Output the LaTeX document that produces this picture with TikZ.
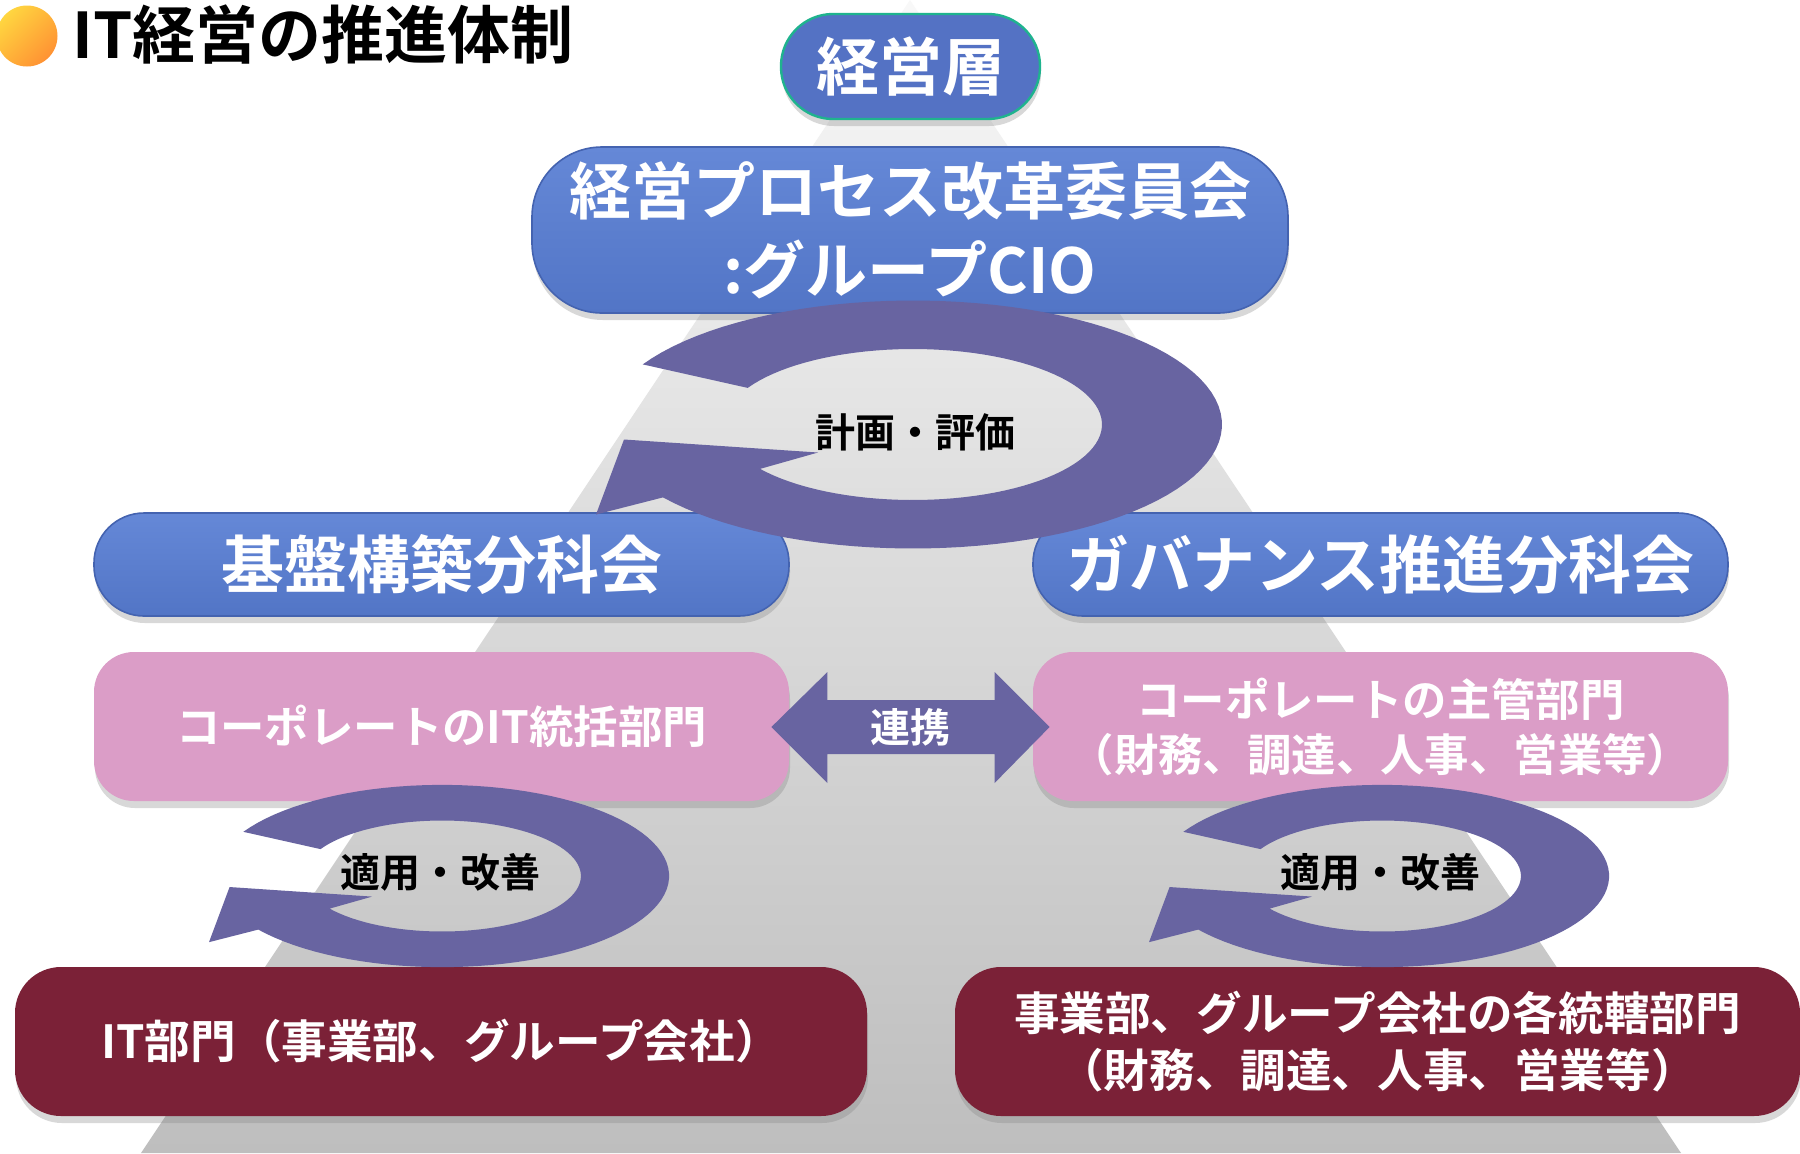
\documentclass[tikz,border=0pt]{standalone}
\usepackage{fontspec}
\newfontfamily\jp{Noto Sans CJK JP}[BoldFont={Noto Sans CJK JP Bold}]
\usetikzlibrary{shadows,calc}
\definecolor{ringc}{HTML}{6864A1}
\definecolor{bluetop}{HTML}{6588D7}
\definecolor{bluemid}{HTML}{5A7ECF}
\definecolor{bluebot}{HTML}{5275C6}
\definecolor{blueline}{HTML}{4463B0}
\definecolor{topblue}{HTML}{5472C4}
\definecolor{tealline}{HTML}{1FB38E}
\definecolor{pinkc}{HTML}{DB9DC7}
\definecolor{maroonc}{HTML}{7B2137}
\definecolor{pyrtop}{HTML}{F8F8F8}
\definecolor{pyrbot}{HTML}{BEBEBE}
\definecolor{orA}{HTML}{FFD640}
\definecolor{orB}{HTML}{FF9233}
\newcommand\myringarrow{%
  \fill[ringc] plot[domain=-151:144, samples=90, variable=\t] ({309*cos(\t)},{124*sin(\t)})
    -- (-317,90) -- (-289,15) -- (-95,28)
    -- plot[domain=144:-151, samples=90, variable=\t] ({189*cos(\t)},{75.5*sin(\t)})
    -- cycle;}
\begin{document}
\begin{tikzpicture}[x=0.5pt,y=-0.5pt,
  shd/.style={drop shadow={shadow xshift=0.5pt, shadow yshift=-3.5pt, opacity=0.3}},
  blubox/.style={shd, rounded corners=25pt, top color=bluetop, middle color=bluemid, bottom color=bluebot,
    draw=blueline, line width=0.8pt, text=white, inner sep=0pt, align=center,
    font=\jp\bfseries\fontsize{31.5}{38}\selectfont},
  pinkbox/.style={shd, rounded corners=20pt, fill=pinkc, text=white, inner sep=0pt,
    align=center, minimum width=347.5pt, minimum height=74.5pt,
    font=\jp\bfseries\fontsize{22.2}{27.5}\selectfont},
  marbox/.style={shd, rounded corners=23pt, fill=maroonc, text=white, inner sep=0pt,
    align=center, minimum height=74.5pt,
    font=\jp\bfseries\fontsize{22.8}{28.5}\selectfont},
  lbl/.style={text=black, inner sep=0pt, font=\jp\bfseries\fontsize{20}{24}\selectfont}]
\useasboundingbox (0,0) rectangle (1800,1153);
\fill[white] (0,0) rectangle (1800,1153);
% background pyramid
\shade[top color=pyrtop, bottom color=pyrbot] (910,0) -- (1681,1153) -- (141,1153) -- cycle;
% title
\shade[top color=orA, bottom color=orB, shading angle=45] (27,36) circle[radius=30.5];
\node[anchor=west, inner sep=0pt, font=\jp\bfseries\fontsize{31.5}{36}\selectfont] (title) at (72,35) {IT経営の推進体制};
% boxes
\node[shd, rounded corners=26pt, fill=topblue, draw=tealline, line width=1.2pt, text=white,
  inner sep=0pt, minimum width=129.5pt, minimum height=52.5pt,
  font=\jp\bfseries\fontsize{31.5}{38}\selectfont] (top) at (910.5,66.5) {経営層};
\node[blubox, minimum width=378pt, minimum height=83pt, rounded corners=35pt,
  font=\jp\bfseries\fontsize{31}{39.5}\selectfont] (cmte) at (910,230) {\raisebox{-4pt}{\parbox{378pt}{\centering 経営プロセス改革委員会\\:グループCIO}}};
\node[blubox, minimum width=347.5pt, minimum height=51.5pt] (kiban) at (441.5,564.5) {基盤構築分科会};
\node[blubox, minimum width=347.5pt, minimum height=51.5pt] (gov) at (1380.5,564.5) {ガバナンス推進分科会};
\node[pinkbox] (pinkL) at (441.5,726.5) {コーポレートのIT統括部門};
\node[pinkbox] (pinkR) at (1380.5,726.5) {コーポレートの主管部門\\（財務、調達、人事、営業等）};
\node[marbox, minimum width=426pt] (marL) at (441,1041.5) {IT部門（事業部、グループ会社）};
\node[marbox, minimum width=422.5pt] (marR) at (1377.5,1041.5) {事業部、グループ会社の各統轄部門\\（財務、調達、人事、営業等）};
% cycle arrows
\begin{scope}[shift={(913,424.5)}]\myringarrow\end{scope}
\begin{scope}[shift={(442,876)}, scale=0.735]\myringarrow\end{scope}
\begin{scope}[shift={(1382,876)}, scale=0.735]\myringarrow\end{scope}
\node[lbl] (plan) at (915,432) {計画・評価};
\node[lbl] (applyL) at (440,872) {適用・改善};
\node[lbl] (applyR) at (1380,872) {適用・改善};
% double arrow between pink boxes
\coordinate (la) at ($(pinkL.east)+(-18,0.5)$);
\coordinate (rb) at ($(pinkR.west)+(17,0.5)$);
\fill[ringc] (la) -- ++(56,-55) -- ++(0,28) -- ($(rb)+(-55,-27)$) -- ++(0,-28) -- (rb)
  -- ++(-55,56) -- ++(0,-29) -- ($(la)+(56,27)$) -- ++(0,29) -- cycle;
\node[inner sep=0pt, text=white, font=\jp\bfseries\fontsize{20}{24}\selectfont] (renkei) at ($(la)!0.5!(rb)$) {連携};
\end{tikzpicture}
\end{document}
